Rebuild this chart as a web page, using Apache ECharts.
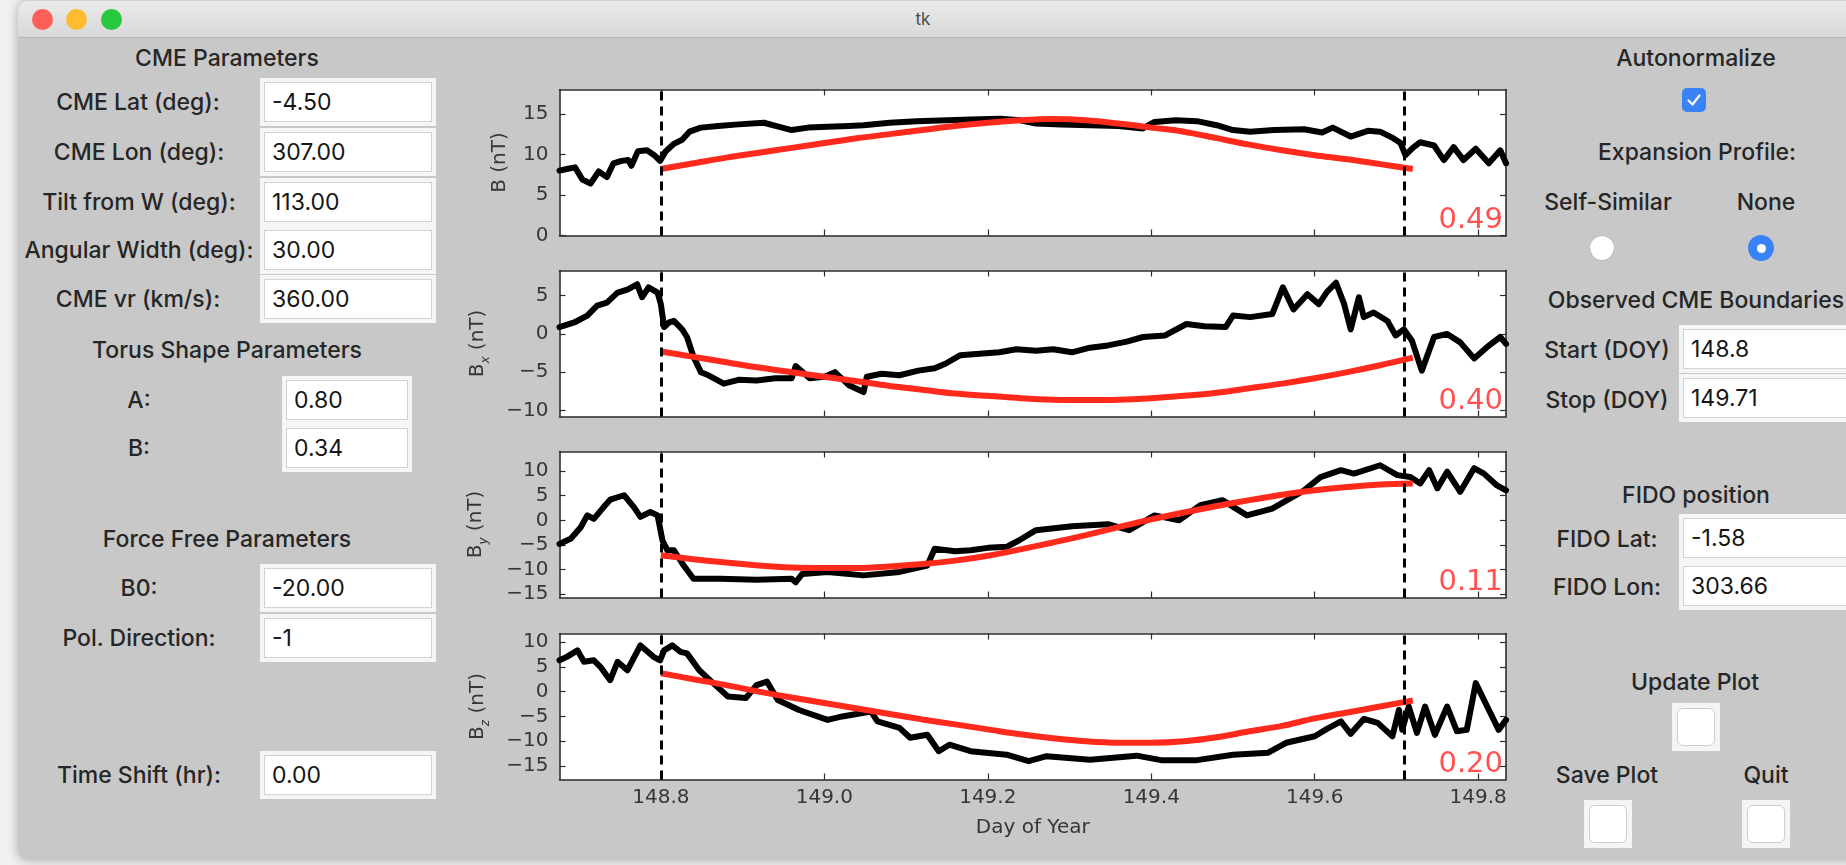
<!DOCTYPE html>
<html>
<head>
<meta charset="utf-8">
<script src="https://cdn.jsdelivr.net/npm/echarts@6/dist/echarts.min.js"></script>
<style>
html, body { margin: 0; padding: 0; width: 1846px; height: 865px; overflow: hidden; background: #f1f1f1; }
#win { position: absolute; left: 18px; top: 1px; width: 1900px; height: 859px; background: #c8c8c8;
       border-radius: 10px 0 0 10px; box-shadow: 0 0 12px rgba(0,0,0,0.30); overflow: hidden; }
#titlebar { position: absolute; left: 0; top: 0; right: 0; height: 36px;
            background: linear-gradient(#ebebeb, #d8d8d8); border-bottom: 1px solid #b4b4b4; }
.light { position: absolute; top: 8px; width: 21px; height: 21px; border-radius: 50%; }
.lbl { position: absolute; transform: translate(-50%, -50%); font-family: Inter, "Noto Sans", sans-serif;
       font-size: 23px; font-weight: 500; color: #262626; white-space: nowrap; }
.entry { position: absolute; height: 40px; background: #fff; border: 1px solid #d2d2d2; box-sizing: border-box;
         box-shadow: 0 0 0 4px #f5f5f5; font-family: Inter, "Noto Sans", sans-serif; font-size: 23px;
         color: #151515; padding-left: 7px; line-height: 38px; }
.btn { position: absolute; width: 48px; height: 48px; background: #f4f4f4; }
.btn div { position: absolute; left: 5px; top: 5px; width: 38px; height: 38px; box-sizing: border-box;
           background: #fff; border: 1px solid #cdcdcd; border-radius: 6px; }
#chart { position: absolute; left: 0; top: 0; width: 1846px; height: 865px; }
</style>
</head>
<body>
<div id="win">
  <div id="titlebar"></div>
  <div class="light" style="left:14px;background:#fe5f57"></div>
  <div class="light" style="left:48px;background:#febc2e"></div>
  <div class="light" style="left:83px;background:#28c840"></div>
</div>
<div class="lbl" style="left:923px;top:19px;font-size:17px;font-weight:400;color:#4a4a4a">tk</div>

<!-- left panel -->
<div class="lbl" style="left:227px;top:58px">CME Parameters</div>
<div class="lbl" style="left:138px;top:102px">CME Lat (deg):</div>
<div class="lbl" style="left:139px;top:152px">CME Lon (deg):</div>
<div class="lbl" style="left:139px;top:202px">Tilt from W (deg):</div>
<div class="lbl" style="left:139px;top:250px">Angular Width (deg):</div>
<div class="lbl" style="left:138px;top:299px">CME vr (km/s):</div>
<div class="entry" style="left:264px;top:82px;width:168px">-4.50</div>
<div class="entry" style="left:264px;top:132px;width:168px">307.00</div>
<div class="entry" style="left:264px;top:182px;width:168px">113.00</div>
<div class="entry" style="left:264px;top:230px;width:168px">30.00</div>
<div class="entry" style="left:264px;top:279px;width:168px">360.00</div>
<div class="lbl" style="left:227px;top:350px">Torus Shape Parameters</div>
<div class="lbl" style="left:139px;top:400px">A:</div>
<div class="lbl" style="left:139px;top:448px">B:</div>
<div class="entry" style="left:286px;top:380px;width:122px">0.80</div>
<div class="entry" style="left:286px;top:428px;width:122px">0.34</div>
<div class="lbl" style="left:227px;top:539px">Force Free Parameters</div>
<div class="lbl" style="left:139px;top:588px">B0:</div>
<div class="lbl" style="left:139px;top:638px">Pol. Direction:</div>
<div class="entry" style="left:264px;top:568px;width:168px">-20.00</div>
<div class="entry" style="left:264px;top:618px;width:168px">-1</div>
<div class="lbl" style="left:139px;top:775px">Time Shift (hr):</div>
<div class="entry" style="left:264px;top:755px;width:168px">0.00</div>

<!-- right panel -->
<div class="lbl" style="left:1696px;top:58px">Autonormalize</div>
<div style="position:absolute;left:1682px;top:88px;width:24px;height:24px;border-radius:5px;background:#3a82f7">
  <svg width="24" height="24"><path d="M6.5 12.5 L10.5 16.5 L17.5 7.5" stroke="#fff" stroke-width="2.2" fill="none" stroke-linecap="round" stroke-linejoin="round"/></svg>
</div>
<div class="lbl" style="left:1697px;top:152px">Expansion Profile:</div>
<div class="lbl" style="left:1608px;top:202px">Self-Similar</div>
<div class="lbl" style="left:1766px;top:202px">None</div>
<div style="position:absolute;left:1590px;top:236px;width:24px;height:24px;border-radius:50%;background:#fff;box-shadow:0 0 1px rgba(0,0,0,0.35)"></div>
<div style="position:absolute;left:1748px;top:235px;width:26px;height:26px;border-radius:50%;background:#3a82f7">
  <div style="position:absolute;left:8.5px;top:8.5px;width:9px;height:9px;border-radius:50%;background:#fff"></div>
</div>
<div class="lbl" style="left:1696px;top:300px">Observed CME Boundaries</div>
<div class="lbl" style="left:1607px;top:350px">Start (DOY)</div>
<div class="lbl" style="left:1607px;top:400px">Stop (DOY)</div>
<div class="entry" style="left:1683px;top:329px;width:220px">148.8</div>
<div class="entry" style="left:1683px;top:378px;width:220px">149.71</div>
<div class="lbl" style="left:1696px;top:495px">FIDO position</div>
<div class="lbl" style="left:1607px;top:539px">FIDO Lat:</div>
<div class="lbl" style="left:1607px;top:587px">FIDO Lon:</div>
<div class="entry" style="left:1683px;top:518px;width:220px">-1.58</div>
<div class="entry" style="left:1683px;top:566px;width:220px">303.66</div>
<div class="lbl" style="left:1695px;top:682px">Update Plot</div>
<div class="btn" style="left:1672px;top:703px"><div></div></div>
<div class="lbl" style="left:1607px;top:775px">Save Plot</div>
<div class="lbl" style="left:1766px;top:775px">Quit</div>
<div class="btn" style="left:1584px;top:800px"><div></div></div>
<div class="btn" style="left:1742px;top:800px"><div></div></div>

<div id="chart"></div>

<script>
// observed field [day of year, nT]
const bObs = [
  [148.676, 8.0], [148.685, 8.2], [148.695, 8.4], [148.704, 6.9], [148.714, 6.4], [148.724, 7.9],
  [148.734, 7.2], [148.742, 8.9], [148.752, 9.2], [148.760, 9.3], [148.764, 8.6], [148.772, 10.4],
  [148.783, 10.5], [148.792, 9.9], [148.799, 9.2], [148.806, 10.4], [148.816, 11.3], [148.826, 11.8],
  [148.835, 12.8], [148.849, 13.3], [148.870, 13.5], [148.895, 13.7], [148.926, 13.9], [148.945, 13.4],
  [148.960, 13.0], [148.980, 13.3], [149.004, 13.4], [149.030, 13.5], [149.048, 13.6], [149.080, 13.9],
  [149.113, 14.1], [149.150, 14.2], [149.179, 14.3], [149.215, 14.4], [149.240, 14.2], [149.259, 13.8],
  [149.290, 13.7], [149.325, 13.6], [149.360, 13.5], [149.390, 13.2], [149.404, 14.0], [149.430, 14.2],
  [149.456, 14.1], [149.480, 13.6], [149.500, 13.0], [149.521, 12.8], [149.550, 13.0], [149.587, 13.1],
  [149.609, 12.7], [149.622, 13.3], [149.644, 12.2], [149.665, 12.9], [149.680, 12.8], [149.696, 12.0],
  [149.705, 11.4], [149.711, 9.9], [149.720, 10.8], [149.729, 11.5], [149.746, 11.1], [149.758, 9.3],
  [149.770, 10.9], [149.782, 9.3], [149.797, 10.7], [149.813, 8.9], [149.827, 10.5], [149.834, 8.9]
];
const bxObs = [
  [148.676, 0.9], [148.694, 1.5], [148.710, 2.4], [148.722, 3.7], [148.734, 4.1], [148.747, 5.4],
  [148.759, 5.8], [148.771, 6.5], [148.777, 4.8], [148.785, 6.1], [148.796, 5.4], [148.800, 3.9],
  [148.804, 0.9], [148.810, 1.5], [148.816, 1.7], [148.826, 0.6], [148.832, -0.4], [148.840, -3.0],
  [148.849, -5.0], [148.856, -5.3], [148.877, -6.5], [148.895, -6.0], [148.917, -6.1], [148.940, -5.8],
  [148.960, -5.8], [148.965, -4.2], [148.982, -5.8], [149.000, -5.6], [149.013, -5.0], [149.030, -6.7],
  [149.048, -7.6], [149.052, -5.6], [149.070, -5.2], [149.092, -5.4], [149.115, -4.8], [149.135, -4.5],
  [149.148, -3.9], [149.166, -2.8], [149.190, -2.6], [149.214, -2.4], [149.235, -2.0], [149.259, -2.2],
  [149.280, -2.0], [149.303, -2.4], [149.325, -1.8], [149.347, -1.5], [149.370, -1.0], [149.390, -0.4],
  [149.417, -0.2], [149.443, 1.3], [149.465, 1.0], [149.491, 0.9], [149.500, 2.4], [149.521, 2.2],
  [149.548, 2.6], [149.561, 6.1], [149.574, 3.2], [149.591, 5.2], [149.605, 3.9], [149.615, 5.5],
  [149.626, 6.7], [149.636, 3.9], [149.644, 0.6], [149.654, 4.8], [149.660, 2.2], [149.672, 2.8],
  [149.689, 1.7], [149.699, -0.2], [149.709, 0.6], [149.719, -0.9], [149.731, -4.8], [149.746, -0.4],
  [149.762, 0.0], [149.778, -1.1], [149.795, -3.2], [149.811, -1.7], [149.827, -0.4], [149.834, -1.3]
];
const byObs = [
  [148.676, -4.8], [148.690, -3.7], [148.702, -1.4], [148.710, 1.0], [148.718, 0.3], [148.730, 2.7],
  [148.738, 4.2], [148.755, 5.1], [148.767, 2.7], [148.775, 0.7], [148.787, 1.7], [148.796, 1.0],
  [148.802, -4.1], [148.808, -6.1], [148.816, -6.1], [148.828, -9.2], [148.840, -11.9], [148.873, -11.9],
  [148.917, -12.1], [148.960, -11.9], [148.965, -12.6], [148.973, -10.9], [149.004, -10.5], [149.048, -11.2],
  [149.092, -10.5], [149.126, -9.2], [149.135, -5.8], [149.160, -6.3], [149.179, -6.1], [149.200, -5.6],
  [149.223, -5.4], [149.238, -4.1], [149.259, -2.0], [149.303, -1.2], [149.347, -0.8], [149.373, -2.0],
  [149.404, 1.0], [149.434, 0.0], [149.460, 3.1], [149.487, 4.1], [149.517, 1.0], [149.548, 2.4],
  [149.587, 6.1], [149.607, 8.8], [149.632, 10.2], [149.648, 9.5], [149.680, 11.2], [149.701, 9.2],
  [149.717, 8.8], [149.729, 7.5], [149.740, 10.2], [149.750, 6.5], [149.762, 9.9], [149.778, 5.8],
  [149.795, 10.6], [149.807, 9.5], [149.823, 7.1], [149.834, 6.1]
];
const bzObs = [
  [148.676, 6.3], [148.685, 7.0], [148.698, 8.3], [148.706, 6.0], [148.718, 6.3], [148.726, 5.0],
  [148.738, 2.3], [148.747, 6.0], [148.759, 4.3], [148.775, 9.3], [148.791, 7.0], [148.799, 6.3],
  [148.804, 8.3], [148.814, 9.3], [148.824, 8.0], [148.832, 7.7], [148.847, 4.3], [148.864, 1.7],
  [148.882, -1.0], [148.904, -1.3], [148.917, 1.3], [148.930, 2.0], [148.943, -1.7], [148.969, -3.7],
  [149.004, -5.7], [149.022, -5.0], [149.057, -4.0], [149.065, -6.0], [149.092, -7.3], [149.105, -9.3],
  [149.126, -8.7], [149.140, -12.0], [149.153, -10.7], [149.179, -12.0], [149.223, -12.7], [149.250, -14.0],
  [149.272, -13.0], [149.325, -13.7], [149.382, -12.9], [149.412, -13.8], [149.456, -13.8], [149.500, -12.7],
  [149.543, -12.3], [149.565, -10.3], [149.600, -9.0], [149.615, -7.5], [149.632, -6.0], [149.644, -8.5],
  [149.660, -5.5], [149.677, -6.3], [149.695, -9.0], [149.703, -3.7], [149.707, -7.7], [149.715, -3.0],
  [149.725, -8.3], [149.735, -3.0], [149.747, -8.7], [149.762, -3.0], [149.774, -8.0], [149.786, -7.7],
  [149.797, 1.7], [149.811, -3.0], [149.825, -7.7], [149.834, -5.7]
];

// model curves, read at the same days
const modelDays = [148.80, 148.84, 148.88, 148.92, 148.96, 149.00, 149.04, 149.08, 149.12, 149.16, 149.20, 149.24,
                   149.28, 149.32, 149.36, 149.40, 149.44, 149.48, 149.52, 149.56, 149.60, 149.64, 149.68, 149.72];
const bModel  = [8.2, 8.9, 9.6, 10.2, 10.8, 11.4, 12.0, 12.5, 13.0, 13.5, 13.9, 14.2,
                 14.35, 14.2, 13.8, 13.3, 12.8, 12.0, 11.2, 10.5, 9.9, 9.4, 8.8, 8.2];
const bxModel = [-2.3, -3.0, -3.7, -4.4, -5.0, -5.6, -6.2, -6.8, -7.3, -7.8, -8.1, -8.4,
                 -8.6, -8.65, -8.6, -8.4, -8.1, -7.7, -7.1, -6.5, -5.8, -5.0, -4.1, -3.1];
const byModel = [-7.1, -7.9, -8.6, -9.2, -9.6, -9.7, -9.7, -9.4, -8.9, -8.2, -7.2, -5.9,
                 -4.5, -3.0, -1.4, 0.2, 1.6, 2.9, 4.1, 5.2, 6.1, 6.8, 7.3, 7.5];
const bzModel = [3.7, 2.5, 1.3, 0.0, -1.2, -2.3, -3.4, -4.5, -5.6, -6.6, -7.6, -8.6,
                 -9.4, -10.0, -10.3, -10.3, -10.0, -9.2, -8.0, -6.9, -5.4, -4.2, -3.0, -1.8];

const boundaries = [148.8, 149.71];
const fitScores = ['0.49', '0.40', '0.11', '0.20'];
const yNames = ['{m|B (nT)}', '{m|B}{s|x}{m| (nT)}', '{m|B}{s|y}{m| (nT)}', '{m|B}{s|z}{m| (nT)}'];
const xRange = [148.676, 149.834];
const xTicks = [148.8, 149.0, 149.2, 149.4, 149.6, 149.8];
const yRanges = [[0, 18], [-10.8, 8.3], [-15.7, 14], [-17.7, 11.7]];
const yTicks = [[0, 5, 10, 15], [-10, -5, 0, 5], [-15, -10, -5, 0, 5, 10], [-15, -10, -5, 0, 5, 10]];

const observed = [bObs, bxObs, byObs, bzObs];
const models = [bModel, bxModel, byModel, bzModel];

// layout
const gridLeft = 559.5, gridRight = 1506, gridH = 146;
const gridTops = [89.5, 270.5, 451.5, 633.5];
const nameGaps = [46, 68, 70, 68];

const ink = '#2c2c2c';
const labelFont = { fontFamily: 'DejaVu Sans', fontSize: 20, color: '#363636' };
const minus = v => (v < 0 ? '\u2212' + Math.abs(v) : String(v));

const chart = echarts.init(document.getElementById('chart'), null, { renderer: 'canvas' });

const grid = [], xAxis = [], yAxis = [], series = [], graphic = [];

gridTops.forEach((top, i) => {
    grid.push({ left: gridLeft, top: top, width: gridRight - gridLeft, height: gridH,
                show: true, backgroundColor: '#fff', borderWidth: 0 });

    const frame = { show: true, onZero: false, lineStyle: { color: ink, width: 1.6 } };
    const xt = { show: true, inside: true, length: 6, customValues: xTicks, lineStyle: { color: ink, width: 1.2 } };
    const yt = { show: true, inside: true, length: 6, customValues: yTicks[i], lineStyle: { color: ink, width: 1.2 } };

    xAxis.push({
        type: 'value', gridIndex: i, min: xRange[0], max: xRange[1], position: 'bottom',
        axisLine: frame, axisTick: xt, splitLine: { show: false },
        axisLabel: { show: i === 3, customValues: xTicks, formatter: v => v.toFixed(1), margin: 8, ...labelFont },
        name: i === 3 ? 'Day of Year' : '', nameLocation: 'middle', nameGap: 38,
        nameTextStyle: labelFont
    });
    xAxis.push({
        type: 'value', gridIndex: i, min: xRange[0], max: xRange[1], position: 'top',
        axisLine: frame, axisTick: xt, axisLabel: { show: false }, splitLine: { show: false }
    });
    yAxis.push({
        type: 'value', gridIndex: i, min: yRanges[i][0], max: yRanges[i][1], position: 'left',
        axisLine: frame, axisTick: yt, splitLine: { show: false },
        axisLabel: { customValues: yTicks[i], formatter: minus, margin: 11, ...labelFont },
        name: yNames[i], nameLocation: 'middle', nameRotate: 90, nameGap: nameGaps[i],
        nameTextStyle: {
            ...labelFont,
            rich: {
                m: { fontFamily: 'DejaVu Sans', fontSize: 20, color: '#363636', lineHeight: 28 },
                s: { fontFamily: 'DejaVu Sans', fontSize: 12, fontStyle: 'italic', color: '#363636',
                     lineHeight: 12, verticalAlign: 'bottom' }
            }
        }
    });
    yAxis.push({
        type: 'value', gridIndex: i, min: yRanges[i][0], max: yRanges[i][1], position: 'right',
        axisLine: frame, axisTick: yt, axisLabel: { show: false }, splitLine: { show: false }
    });

    series.push({
        type: 'line', xAxisIndex: i * 2, yAxisIndex: i * 2, data: observed[i],
        showSymbol: false, silent: true,
        lineStyle: { color: '#000', width: 6, join: 'round', cap: 'round' },
        markLine: {
            silent: true, symbol: ['none', 'none'], label: { show: false },
            lineStyle: { color: '#000', width: 3, type: [9, 6] },
            data: boundaries.map(b => ({ xAxis: b }))
        }
    });
    series.push({
        type: 'line', xAxisIndex: i * 2, yAxisIndex: i * 2,
        data: modelDays.map((d, k) => [d, models[i][k]]),
        showSymbol: false, silent: true, smooth: 0.3,
        lineStyle: { color: '#ff2a1c', width: 6, cap: 'butt' }
    });

    graphic.push({
        type: 'text', x: gridRight - 3, y: top + gridH - 1, silent: true,
        style: { text: fitScores[i], fontFamily: 'DejaVu Sans', fontSize: 29, fill: '#ff5252',
                 align: 'right', verticalAlign: 'bottom' }
    });
});

chart.setOption({
    backgroundColor: 'transparent',
    animation: false,
    grid, xAxis, yAxis, series, graphic
});
</script>
</body>
</html>
